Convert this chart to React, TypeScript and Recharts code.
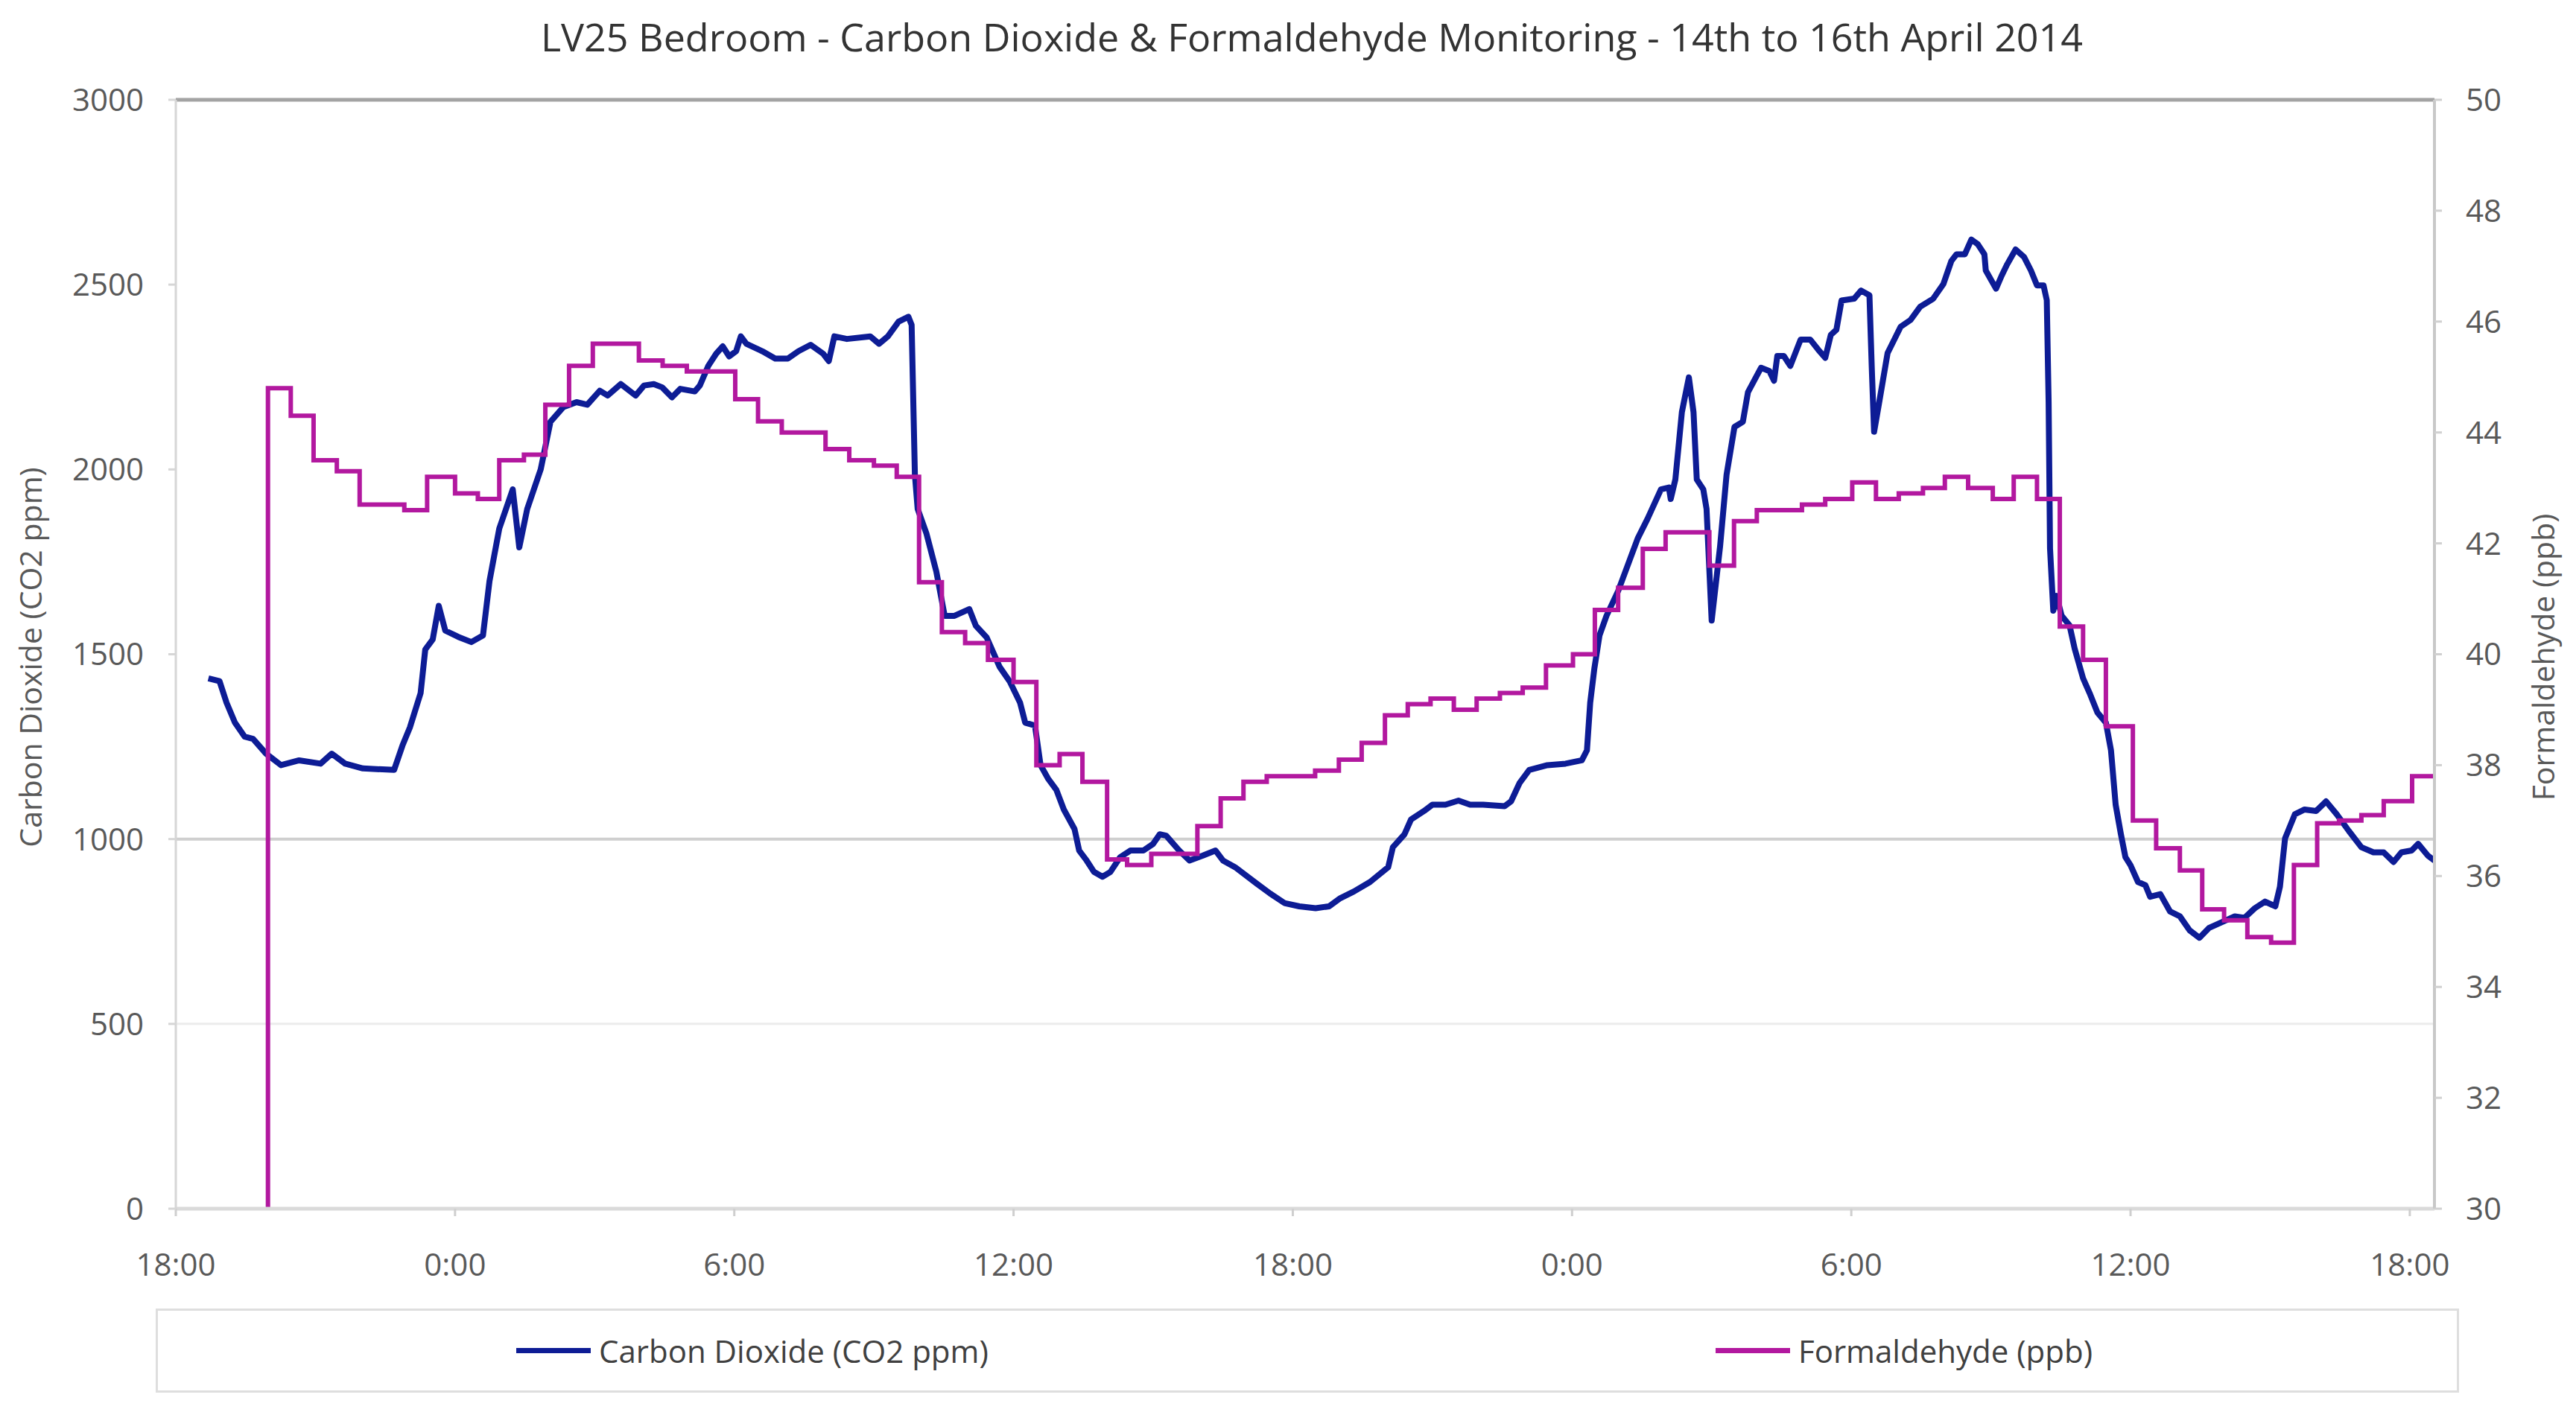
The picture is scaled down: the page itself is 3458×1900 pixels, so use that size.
import { LineChart, Line, XAxis, YAxis, ReferenceLine, Legend } from 'recharts';

// CO2 readings (ppm), time in hours after 18:00 on 14th April
const co2Hours = [
  0.7, 0.94, 1.09, 1.27, 1.48, 1.66, 1.94, 2.26, 2.65, 3.11, 3.35, 3.64, 4.02, 4.69, 4.87, 5.03,
  5.26, 5.36, 5.52, 5.65, 5.79, 6.07, 6.35, 6.6, 6.74, 6.95, 7.24, 7.38, 7.55, 7.84, 8.05, 8.33,
  8.61, 8.84, 9.11, 9.28, 9.56, 9.88, 10.06, 10.27, 10.45, 10.66, 10.84, 11.15, 11.26, 11.44, 11.61, 11.75,
  11.89, 12.04, 12.14, 12.26, 12.6, 12.88, 13.15, 13.38, 13.64, 13.91, 14.03, 14.15, 14.42, 14.92, 15.11, 15.3,
  15.53, 15.74, 15.81, 15.88, 15.94, 16.13, 16.34, 16.52, 16.73, 17.05, 17.19, 17.42, 17.7, 17.92, 18.14, 18.25,
  18.46, 18.58, 18.74, 18.92, 19.08, 19.31, 19.41, 19.57, 19.73, 19.91, 20.08, 20.29, 20.51, 20.79, 21.0, 21.14,
  21.28, 21.56, 21.78, 22.06, 22.24, 22.34, 22.5, 22.76, 23.22, 23.51, 23.82, 24.14, 24.49, 24.78, 25.02, 25.31,
  25.66, 26.05, 26.15, 26.4, 26.54, 26.82, 27.0, 27.28, 27.56, 27.81, 28.09, 28.55, 28.69, 28.87, 29.08, 29.47,
  29.86, 30.21, 30.32, 30.39, 30.48, 30.59, 30.74, 30.99, 31.2, 31.41, 31.62, 31.91, 32.08, 32.12, 32.22, 32.36,
  32.51, 32.61, 32.68, 32.82, 32.89, 33.0, 33.18, 33.32, 33.49, 33.67, 33.78, 34.06, 34.24, 34.34, 34.41, 34.55,
  34.69, 34.91, 35.12, 35.29, 35.44, 35.56, 35.68, 35.79, 36.06, 36.21, 36.39, 36.44, 36.49, 36.6, 36.78, 37.06,
  37.27, 37.48, 37.76, 37.98, 38.15, 38.26, 38.44, 38.58, 38.72, 38.86, 38.89, 39.11, 39.23, 39.35, 39.53, 39.71,
  39.86, 39.99, 40.13, 40.2, 40.24, 40.27, 40.34, 40.41, 40.52, 40.69, 40.8, 40.98, 41.12, 41.29, 41.47, 41.58,
  41.68, 41.79, 41.89, 42.0, 42.16, 42.32, 42.42, 42.64, 42.85, 43.06, 43.27, 43.48, 43.69, 44.01, 44.24, 44.45,
  44.67, 44.89, 45.11, 45.21, 45.32, 45.53, 45.74, 45.99, 46.2, 46.43, 46.69, 46.96, 47.22, 47.44, 47.65, 47.82,
  48.04, 48.18, 48.39, 48.53,
];
const co2Ppm = [
  1435, 1427, 1369, 1315, 1277, 1271, 1231, 1200, 1213, 1204, 1231, 1204, 1191, 1187, 1253, 1302,
  1395, 1513, 1540, 1631, 1564, 1547, 1533, 1551, 1698, 1840, 1946, 1789, 1893, 2000, 2129, 2169,
  2182, 2175, 2213, 2200, 2231, 2200, 2227, 2231, 2222, 2195, 2218, 2211, 2227, 2280, 2313, 2333,
  2306, 2320, 2360, 2340, 2320, 2300, 2300, 2320, 2337, 2313, 2293, 2360, 2353, 2360, 2340, 2360,
  2400, 2413, 2391, 1986, 1893, 1826, 1724, 1604, 1604, 1622, 1577, 1546, 1466, 1426, 1369, 1315,
  1307, 1200, 1164, 1133, 1080, 1027, 969, 942, 911, 898, 911, 951, 969, 969, 987, 1013,
  1009, 969, 942, 955, 964, 969, 942, 924, 880, 853, 827, 818, 813, 818, 840, 858,
  884, 924, 978, 1013, 1053, 1076, 1093, 1093, 1104, 1093, 1093, 1089, 1102, 1151, 1187, 1200,
  1204, 1213, 1240, 1369, 1462, 1551, 1604, 1671, 1742, 1813, 1866, 1946, 1951, 1920, 1973, 2155,
  2249, 2155, 1973, 1946, 1893, 1591, 1791, 1986, 2115, 2129, 2209, 2275, 2266, 2240, 2307, 2307,
  2280, 2351, 2351, 2324, 2302, 2364, 2378, 2457, 2462, 2484, 2471, 2275, 2102, 2182, 2315, 2386,
  2404, 2440, 2462, 2502, 2564, 2582, 2582, 2622, 2609, 2582, 2538, 2489, 2524, 2555, 2595, 2575,
  2538, 2498, 2498, 2458, 2182, 1786, 1618, 1658, 1604, 1578, 1515, 1435, 1395, 1342, 1315, 1240,
  1093, 1015, 951, 929, 884, 875, 844, 851, 804, 791, 753, 733, 760, 778, 791, 787,
  813, 831, 818, 871, 1002, 1067, 1080, 1076, 1102, 1067, 1022, 978, 964, 964, 938, 964,
  969, 987, 955, 942,
];

// Formaldehyde readings (ppb), each value holds until the next time
const hchoHours = [
  1.98, 1.98, 2.47, 2.96, 3.46, 3.95, 4.91, 5.4, 6.0, 6.49, 6.95, 7.48, 7.94, 8.45, 8.96, 9.95,
  10.46, 10.98, 12.02, 12.51, 13.02, 13.96, 14.47, 15.0, 15.49, 15.97, 16.46, 16.96, 17.45, 18.0, 18.49, 18.99,
  19.48, 20.01, 20.44, 20.96, 21.95, 22.45, 22.94, 23.44, 24.48, 24.99, 25.48, 25.98, 26.47, 26.96, 27.46, 27.95,
  28.45, 28.94, 29.44, 30.02, 30.49, 30.99, 31.52, 32.01, 32.95, 33.48, 33.97, 34.94, 35.44, 36.02, 36.53, 37.02,
  37.54, 38.01, 38.51, 39.04, 39.49, 39.99, 40.48, 40.98, 41.47, 42.05, 42.55, 43.06, 43.54, 44.01, 44.51, 45.02,
  45.51, 46.01, 46.48, 46.96, 47.44, 48.05, 48.53,
];
const hchoPpb = [
  30, 44.8, 44.3, 43.5, 43.3, 42.7, 42.6, 43.2, 42.9, 42.8, 43.5, 43.6, 44.5, 45.2, 45.6, 45.3,
  45.2, 45.1, 44.6, 44.2, 44.0, 43.7, 43.5, 43.4, 43.2, 41.3, 40.4, 40.2, 39.9, 39.5, 38.0, 38.2,
  37.7, 36.3, 36.2, 36.4, 36.9, 37.4, 37.7, 37.8, 37.9, 38.1, 38.4, 38.9, 39.1, 39.2, 39.0, 39.2,
  39.3, 39.4, 39.8, 40.0, 40.8, 41.2, 41.9, 42.2, 41.6, 42.4, 42.6, 42.7, 42.8, 43.1, 42.8, 42.9,
  43.0, 43.2, 43.0, 42.8, 43.2, 42.8, 40.5, 39.9, 38.7, 37.0, 36.5, 36.1, 35.4, 35.2, 34.9, 34.8,
  36.2, 36.95, 37.0, 37.1, 37.35, 37.8, 37.8,
];

const hourTicks = [0, 6, 12, 18, 24, 30, 36, 42, 48];
const hourLabels = ['18:00', '0:00', '6:00', '12:00', '18:00', '0:00', '6:00', '12:00', '18:00'];
const co2Ticks = [0, 500, 1000, 1500, 2000, 2500, 3000];
const hchoTicks = [30, 32, 34, 36, 38, 40, 42, 44, 46, 48, 50];

const co2Data = co2Hours.map((t, i) => ({ t, co2: co2Ppm[i] }));
const hchoData = hchoHours.map((t, i) => ({ t, hcho: hchoPpb[i] }));

const FONT = '"Open Sans", sans-serif';
const CO2_COLOR = '#0d1c95';
const HCHO_COLOR = '#b2189f';
const legendLeft = [481, 2091];

const tickStyle = { fontFamily: FONT, fontSize: 42, fill: '#595959' };

const renderLegend = (props: any) => {
  const payload = props.payload || [];
  return (
    <div
      style={{
        position: 'relative',
        width: 3092,
        height: 113,
        boxSizing: 'border-box',
        border: '3px solid #dedede',
        fontFamily: FONT,
        fontSize: 42,
        color: '#404040',
      }}
    >
      {payload.map((entry: any, i: number) => (
        <div
          key={entry.value}
          style={{
            position: 'absolute',
            left: legendLeft[i],
            top: 0,
            height: '100%',
            display: 'flex',
            alignItems: 'center',
            whiteSpace: 'nowrap',
          }}
        >
          <span style={{ display: 'inline-block', width: 100, height: 7, background: entry.color, marginRight: 11 }} />
          {entry.value}
        </div>
      ))}
    </div>
  );
};

const leftTitle = (props: any) => {
  const vb = props.viewBox;
  const x = vb.x - 76;
  const y = vb.y + vb.height / 2 + 4;
  return (
    <text x={x} y={y} transform={`rotate(-90 ${x} ${y})`} textAnchor="middle" dominantBaseline="central"
      style={{ fontFamily: FONT, fontSize: 41, fill: '#595959' }}>
      Carbon Dioxide (CO2 ppm)
    </text>
  );
};

const rightTitle = (props: any) => {
  const vb = props.viewBox;
  const x = vb.x + 145;
  const y = vb.y + vb.height / 2 + 4;
  return (
    <text x={x} y={y} transform={`rotate(-90 ${x} ${y})`} textAnchor="middle" dominantBaseline="central"
      style={{ fontFamily: FONT, fontSize: 41, fill: '#595959' }}>
      Formaldehyde (ppb)
    </text>
  );
};

export default function App() {
  return (
    <div style={{ position: 'absolute', left: 0, top: 0, width: 3458, height: 1900, background: '#fff' }}>
      <div
        style={{
          position: 'absolute',
          left: 1761,
          top: 48,
          transform: 'translate(-50%, -50%)',
          whiteSpace: 'nowrap',
          fontFamily: FONT,
          fontSize: 52,
          color: '#333',
        }}
      >
        LV25 Bedroom - Carbon Dioxide &amp; Formaldehyde Monitoring - 14th to 16th April 2014
      </div>
      <LineChart width={3458} height={1900} margin={{ top: 134, left: 116, right: 70, bottom: 64 }}>
        <XAxis
          dataKey="t"
          type="number"
          domain={[0, 48.53]}
          ticks={hourTicks}
          tickFormatter={(v: number) => hourLabels[hourTicks.indexOf(v)]}
          height={100}
          tick={tickStyle}
          tickSize={10}
          tickMargin={50}
          axisLine={{ stroke: '#dadada', strokeWidth: 5 }}
          tickLine={{ stroke: '#cfcfcf', strokeWidth: 3 }}
          allowDataOverflow
        />
        <YAxis
          yAxisId="left"
          domain={[0, 3000]}
          ticks={co2Ticks}
          width={120}
          tick={tickStyle}
          tickSize={10}
          tickMargin={33}
          axisLine={{ stroke: '#d6d6d6', strokeWidth: 3 }}
          tickLine={{ stroke: '#d6d6d6', strokeWidth: 3 }}
          label={{ content: leftTitle }}
        />
        <YAxis
          yAxisId="right"
          orientation="right"
          domain={[30, 50]}
          ticks={hchoTicks}
          width={120}
          tick={{ ...tickStyle, textAnchor: 'start' }}
          tickSize={10}
          tickMargin={32}
          axisLine={{ stroke: '#c8c8c8', strokeWidth: 4 }}
          tickLine={{ stroke: '#d0d0d0', strokeWidth: 3 }}
          label={{ content: rightTitle }}
        />
        <ReferenceLine yAxisId="left" y={500} stroke="#ececec" strokeWidth={3} />
        <ReferenceLine yAxisId="left" y={1000} stroke="#cfcfcf" strokeWidth={4} />
        <ReferenceLine yAxisId="left" y={3000} stroke="#a3a3a3" strokeWidth={5} />
        <Line
          yAxisId="left"
          data={co2Data}
          dataKey="co2"
          name="Carbon Dioxide (CO2 ppm)"
          type="linear"
          stroke={CO2_COLOR}
          strokeWidth={8}
          strokeLinejoin="round"
          dot={false}
          activeDot={false}
          isAnimationActive={false}
        />
        <Line
          yAxisId="right"
          data={hchoData}
          dataKey="hcho"
          name="Formaldehyde (ppb)"
          type="stepAfter"
          stroke={HCHO_COLOR}
          strokeWidth={6}
          dot={false}
          activeDot={false}
          isAnimationActive={false}
        />
        <Legend
          verticalAlign="bottom"
          content={renderLegend}
          wrapperStyle={{ left: 209, bottom: 30, width: 3092, height: 113 }}
        />
      </LineChart>
    </div>
  );
}
